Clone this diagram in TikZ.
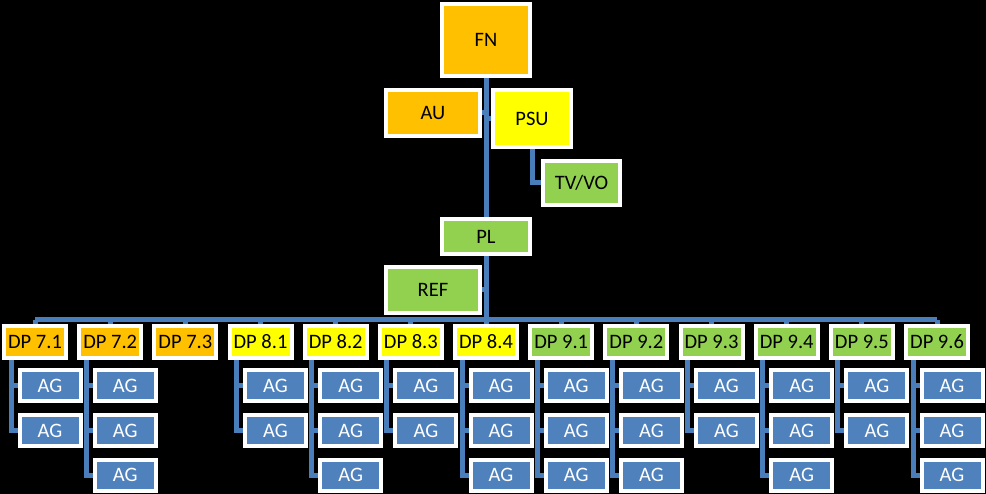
\documentclass[tikz,border=0pt]{standalone}
\usepackage{fontspec}
\setmainfont{Carlito}
\usetikzlibrary{backgrounds}
\definecolor{orng}{HTML}{FFC000}
\definecolor{yel}{HTML}{FFFF00}
\definecolor{grn}{HTML}{92D050}
\definecolor{agblue}{HTML}{4F81BD}
\definecolor{linecol}{HTML}{4A7EBB}
\begin{document}
\begin{tikzpicture}[x=1pt,y=-1pt,
  box/.style={draw=white,line width=4pt,inner sep=0pt,outer sep=0pt,
    font=\fontsize{20.5}{24}\selectfont,text=black},
  dpbox/.style={box,minimum width=62pt,minimum height=32pt},
  agbox/.style={box,fill=agblue,text=white,minimum width=61pt,minimum height=31pt},
  conn/.style={draw=linecol,line width=5pt,line join=miter}]
\begin{scope}[on background layer]
\fill[black] (0,0) rectangle (986,494);
\end{scope}
\useasboundingbox (0,0) rectangle (986,494);

\node[box,fill=orng,minimum width=88pt,minimum height=72pt] (fn) at (486,40) {FN};
\node[box,fill=orng,minimum width=94pt,minimum height=46pt] (au) at (433,113) {AU};
\node[box,fill=yel,minimum width=78pt,minimum height=57pt] (psu) at (532,118.5) {PSU};
\node[box,fill=grn,minimum width=77pt,minimum height=44pt] (tv) at (581.5,183) {TV/VO};
\node[box,fill=grn,minimum width=88pt,minimum height=35pt] (pl) at (486,236.5) {PL};
\node[box,fill=grn,minimum width=94pt,minimum height=46pt] (ref) at (433,290) {REF};
\coordinate (busc) at (486,320);

\foreach \i/\lab/\col/\n in {0/7.1/orng/2,1/7.2/orng/3,2/7.3/orng/0,
  3/8.1/yel/2,4/8.2/yel/3,5/8.3/yel/2,6/8.4/yel/3,
  7/9.1/grn/3,8/9.2/grn/3,9/9.3/grn/2,10/9.4/grn/3,11/9.5/grn/2,12/9.6/grn/3}{
  \pgfmathsetmacro\cx{35+75.17*\i}
  \node[dpbox,fill=\col] (dp\i) at (\cx,342) {DP \lab};
  \ifnum\n>0
    \foreach \k in {1,...,\n}{
      \pgfmathsetmacro\cy{386+44.5*(\k-1)}
      \node[agbox] (ag\i-\k) at (\cx+15,\cy) {AG};
      \begin{scope}[on background layer]
        \draw[conn] ([xshift=-24pt]dp\i.south) |- (ag\i-\k.west);
      \end{scope}
    }
  \fi
  \begin{scope}[on background layer]
    \draw[conn] (dp\i.north) -- (dp\i.north |- busc);
  \end{scope}
}

\begin{scope}[on background layer]
\draw[conn] (fn.south) -- (busc);
\draw[conn] (dp0.north |- busc) -- (dp12.north |- busc);
\draw[conn] (au.east) -- (au.east -| busc);
\draw[conn] (psu.west) -- (psu.west -| busc);
\draw[conn] (ref.east) -- (ref.east -| busc);
\draw[conn] (psu.south) |- (tv.west);
\end{scope}
\end{tikzpicture}
\end{document}
